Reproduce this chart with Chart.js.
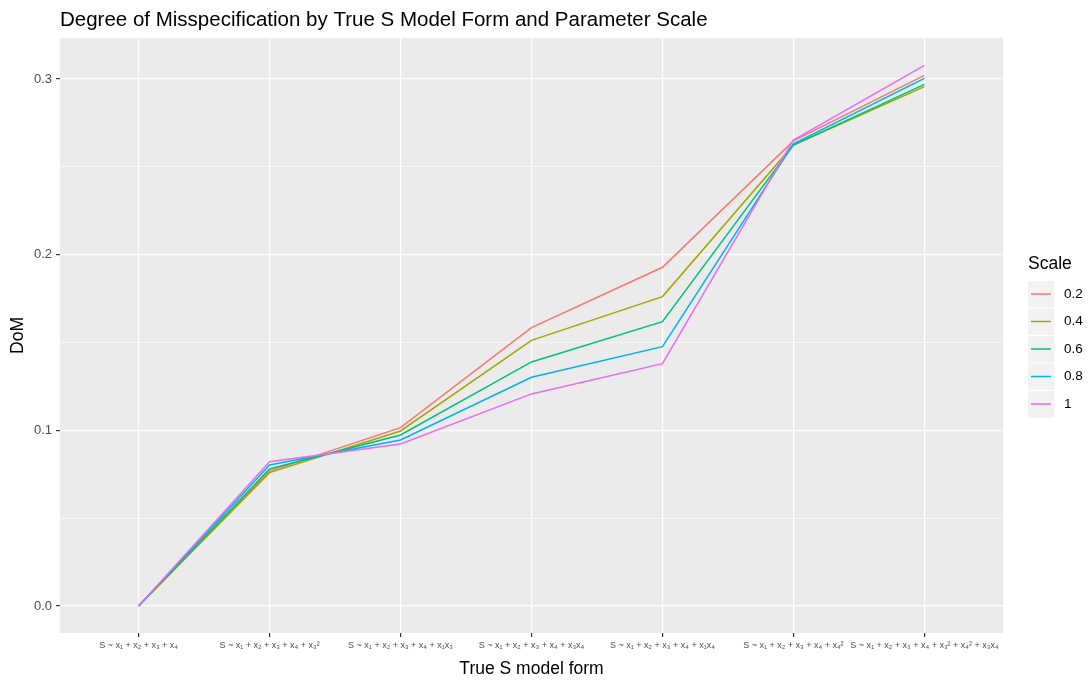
<!DOCTYPE html>
<html>
<head>
<meta charset="utf-8">
<script src="https://cdn.jsdelivr.net/npm/chart.js@4/dist/chart.umd.min.js"></script>
<style>
    html, body { margin: 0; padding: 0; background: #ffffff; }
    #wrap { width: 1090px; height: 681px; }
</style>
</head>
<body>
<div id="wrap"><canvas id="domChart" width="1090" height="681"></canvas></div>
<script>
const modelForms = [
    'S ~ x\u2081 + x\u2082 + x\u2083 + x\u2084',
    'S ~ x\u2081 + x\u2082 + x\u2083 + x\u2084 + x\u2083\u00B2',
    'S ~ x\u2081 + x\u2082 + x\u2083 + x\u2084 + x\u2081x\u2083',
    'S ~ x\u2081 + x\u2082 + x\u2083 + x\u2084 + x\u2083x\u2084',
    'S ~ x\u2081 + x\u2082 + x\u2083 + x\u2084 + x\u2081x\u2084',
    'S ~ x\u2081 + x\u2082 + x\u2083 + x\u2084 + x\u2084\u00B2',
    'S ~ x\u2081 + x\u2082 + x\u2083 + x\u2084 + x\u2083\u00B2 + x\u2084\u00B2 + x\u2083x\u2084'
];

const scaleLabels = ['0.2', '0.4', '0.6', '0.8', '1'];
const scaleColors = ['#F8766D', '#A3A500', '#00BF7D', '#00B0F6', '#E76BF3'];

const dom02 = [0, 0.0768, 0.1015, 0.1584, 0.1928, 0.2647, 0.3020];
const dom04 = [0, 0.0759, 0.0996, 0.1512, 0.1761, 0.2624, 0.2956];
const dom06 = [0, 0.0780, 0.0973, 0.1389, 0.1618, 0.2624, 0.2969];
const dom08 = [0, 0.0802, 0.0945, 0.1302, 0.1476, 0.2630, 0.3003];
const dom10 = [0, 0.0821, 0.0922, 0.1207, 0.1379, 0.2652, 0.3077];

const yMajorTicks = [0, 0.1, 0.2, 0.3];
const yMajorLabels = ['0.0', '0.1', '0.2', '0.3'];
const yMinorTicks = [0.05, 0.15, 0.25];

const allSeries = [dom02, dom04, dom06, dom08, dom10];
const fontFamily = '"Liberation Sans", Arial, sans-serif';

let datasets = allSeries.map((vals, i) => ({
    label: scaleLabels[i],
    data: vals.map((v, j) => ({ x: j, y: v })),
    borderColor: scaleColors[i],
    backgroundColor: scaleColors[i],
    borderWidth: 1.5,
    pointRadius: 0,
    tension: 0,
    fill: false,
    order: allSeries.length - i
}));

// grey panel like ggplot
const panelBg = {
    id: 'panelBg',
    beforeDraw(chart) {
        let a = chart.chartArea;
        let ctx = chart.ctx;
        ctx.save();
        ctx.fillStyle = '#EBEBEB';
        ctx.fillRect(a.left, a.top, a.right - a.left, a.bottom - a.top);
        ctx.restore();
    }
};

// legend with grey key boxes
const sideLegend = {
    id: 'sideLegend',
    afterDraw(chart) {
        let ctx = chart.ctx;
        let x0 = chart.chartArea.right + 25;
        ctx.save();
        ctx.fillStyle = '#000000';
        ctx.font = '17.5px ' + fontFamily;
        ctx.textBaseline = 'middle';
        ctx.textAlign = 'left';
        ctx.fillText('Scale', x0, 264);
        chart.data.datasets.forEach((ds, i) => {
            let cy = 294 + i * 27.5;
            ctx.fillStyle = '#F2F2F2';
            ctx.fillRect(x0, cy - 13, 26, 26.5);
            ctx.strokeStyle = ds.borderColor;
            ctx.lineWidth = 1.5;
            ctx.beginPath();
            ctx.moveTo(x0 + 3, cy);
            ctx.lineTo(x0 + 23, cy);
            ctx.stroke();
            ctx.fillStyle = '#000000';
            ctx.font = '13.5px ' + fontFamily;
            ctx.fillText(ds.label, x0 + 36, cy);
        });
        ctx.restore();
    }
};

let ctx = document.getElementById('domChart').getContext('2d');
let chart = new Chart(ctx, {
    type: 'line',
    data: { datasets: datasets },
    plugins: [panelBg, sideLegend],
    options: {
        responsive: false,
        animation: false,
        layout: { padding: { top: 2, right: 87, bottom: 0, left: 0 } },
        scales: {
            x: {
                type: 'linear',
                min: -0.6,
                max: 6.6,
                afterBuildTicks: (scale) => {
                    scale.ticks = modelForms.map((m, i) => ({ value: i }));
                },
                afterFit: (scale) => { scale.height = 48; },
                grid: {
                    color: '#FFFFFF',
                    lineWidth: 1.2,
                    tickColor: '#333333',
                    tickLength: 4
                },
                border: { display: false },
                ticks: {
                    autoSkip: false,
                    maxRotation: 0,
                    padding: 3,
                    color: '#4D4D4D',
                    font: { family: fontFamily, size: 9 },
                    callback: (v) => modelForms[v]
                },
                title: {
                    display: true,
                    text: 'True S model form',
                    color: '#000000',
                    font: { family: fontFamily, size: 17.5 },
                    padding: { top: 0, bottom: 1.5 }
                }
            },
            y: {
                type: 'linear',
                min: -0.0154,
                max: 0.3233,
                afterBuildTicks: (scale) => {
                    let t = yMajorTicks.concat(yMinorTicks).sort((a, b) => a - b);
                    scale.ticks = t.map(v => ({ value: v }));
                },
                afterFit: (scale) => { scale.width = 60; },
                grid: {
                    color: '#FFFFFF',
                    lineWidth: (c) => yMajorTicks.indexOf(c.tick.value) >= 0 ? 1.2 : 0.6,
                    tickColor: (c) => yMajorTicks.indexOf(c.tick.value) >= 0 ? '#333333' : 'rgba(0,0,0,0)',
                    tickLength: 4
                },
                border: { display: false },
                ticks: {
                    autoSkip: false,
                    padding: 4,
                    color: '#4D4D4D',
                    font: { family: fontFamily, size: 13 },
                    callback: (v) => {
                        let k = yMajorTicks.indexOf(v);
                        return k >= 0 ? yMajorLabels[k] : '';
                    }
                },
                title: {
                    display: true,
                    text: 'DoM',
                    color: '#000000',
                    font: { family: fontFamily, size: 17.5 },
                    padding: { top: 7.5, bottom: 0 }
                }
            }
        },
        plugins: {
            legend: { display: false },
            tooltip: { enabled: false },
            title: {
                display: true,
                text: 'Degree of Misspecification by True S Model Form and Parameter Scale',
                align: 'start',
                fullSize: false,
                color: '#000000',
                font: { family: fontFamily, size: 20.5, weight: 'normal' },
                padding: { top: 6, bottom: 5.4 }
            }
        }
    }
});
</script>
</body>
</html>
